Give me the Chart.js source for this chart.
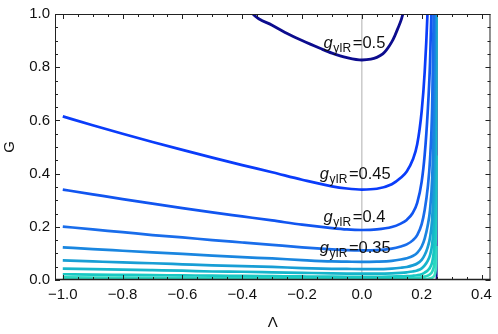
<!DOCTYPE html>
<html>
<head>
<meta charset="utf-8">
<script src="https://cdn.jsdelivr.net/npm/chart.js@4.4.1/dist/chart.umd.min.js"></script>
<style>
  html, body { margin: 0; padding: 0; background: #fff; }
  #box { width: 498px; height: 334px; }
</style>
</head>
<body>
<div id="box"><canvas id="grafico" width="498" height="334"></canvas></div>
<script>
// curve values, G against Lambda
const lambdaGrid = [-1, -0.9, -0.8, -0.7, -0.6, -0.5, -0.4, -0.3, -0.2, -0.1, -0.05, 0, 0.05, 0.1, 0.13, 0.15, 0.17, 0.185, 0.2, 0.21, 0.22, 0.228, 0.235, 0.24, 0.243, 0.245, 0.247, 0.248, 0.249];
const g045 = [0.615, 0.582, 0.550, 0.519, 0.489, 0.460, 0.432, 0.405, 0.377, 0.352, 0.344, 0.340, 0.343, 0.360, 0.384, 0.408, 0.452, 0.510, 0.635, 0.782, 1.02, 1.33];
const g040 = [0.340, 0.322, 0.304, 0.287, 0.270, 0.254, 0.239, 0.224, 0.208, 0.195, 0.190, 0.188, 0.190, 0.199, 0.212, 0.226, 0.252, 0.29, 0.37, 0.47, 0.63, 0.82, 1.12];
const g035 = [0.201, 0.190, 0.180, 0.169, 0.160, 0.150, 0.141, 0.132, 0.123, 0.115, 0.112, 0.111, 0.112, 0.118, 0.126, 0.134, 0.149, 0.169, 0.21, 0.263, 0.345, 0.455, 0.65, 0.99, 1.4];
const g030 = [0.123, 0.116, 0.110, 0.104, 0.098, 0.092, 0.086, 0.081, 0.075, 0.070, 0.069, 0.068, 0.069, 0.072, 0.077, 0.082, 0.090, 0.102, 0.126, 0.156, 0.204, 0.265, 0.381, 0.578, 0.816, 1.16];
const g025 = [0.074, 0.070, 0.066, 0.063, 0.059, 0.055, 0.052, 0.049, 0.045, 0.042, 0.0415, 0.041, 0.041, 0.043, 0.046, 0.049, 0.055, 0.062, 0.076, 0.094, 0.123, 0.160, 0.230, 0.349, 0.49, 0.70, 1.15];
const g020 = [0.043, 0.041, 0.039, 0.037, 0.035, 0.032, 0.031, 0.029, 0.027, 0.025, 0.0243, 0.024, 0.024, 0.025, 0.027, 0.029, 0.032, 0.036, 0.044, 0.055, 0.072, 0.094, 0.134, 0.204, 0.288, 0.408, 0.672, 1.01];
const g015 = [0.0217, 0.0205, 0.0194, 0.0183, 0.0173, 0.0162, 0.0153, 0.0143, 0.0133, 0.0124, 0.0121, 0.012, 0.012, 0.013, 0.014, 0.0145, 0.016, 0.018, 0.022, 0.028, 0.036, 0.047, 0.067, 0.102, 0.144, 0.204, 0.336, 0.504, 1.02];
const g010 = [0.0099, 0.0094, 0.0089, 0.0084, 0.0079, 0.0074, 0.0070, 0.0066, 0.0061, 0.0057, 0.0056, 0.0055, 0.0056, 0.0058, 0.0062, 0.0066, 0.0073, 0.0083, 0.0102, 0.0127, 0.0165, 0.0215, 0.031, 0.047, 0.066, 0.094, 0.154, 0.231, 0.468];
const g005 = [0.0027, 0.0026, 0.0024, 0.0023, 0.0022, 0.0020, 0.0019, 0.0018, 0.0017, 0.0016, 0.0015, 0.0015, 0.0015, 0.0016, 0.0017, 0.0018, 0.002, 0.0023, 0.0028, 0.0035, 0.0045, 0.0059, 0.0084, 0.0128, 0.018, 0.0255, 0.042, 0.063, 0.128];

// the g=0.5 curve has its own sampling
const lambda05 = [-0.38, -0.364, -0.3, -0.248, -0.2, -0.138, -0.1, -0.05, 0, 0.03, 0.05, 0.07, 0.083, 0.1, 0.11, 0.12, 0.132, 0.142];
const g050 = [1.03, 1.0, 0.958, 0.926, 0.9, 0.87, 0.853, 0.836, 0.827, 0.83, 0.837, 0.85, 0.866, 0.895, 0.918, 0.945, 0.98, 1.02];

const poleLambda = 0.25;
const curveNames = ["0.45", "0.4", "0.35", "0.3", "0.25", "0.2", "0.15", "0.1", "0.05"];
const curveValues = [g045, g040, g035, g030, g025, g020, g015, g010, g005];
const labelledCurves = ["0.5", "0.45", "0.4", "0.35"];

const xTickValues = [-1.0, -0.8, -0.6, -0.4, -0.2, 0.0, 0.2, 0.4];
const yTickValues = [0.0, 0.2, 0.4, 0.6, 0.8, 1.0];

const coresCurvas = ["#0a3cfa", "#1155f0", "#196deb", "#1a86e0", "#189ed5", "#16b5cb", "#18c8c3", "#28d6c0", "#3ee2c4"];
const corNavy = "#0c0c8e";
const fonte = '"Liberation Sans", Arial, sans-serif';

function fmt(v) {
  const s = Math.abs(v).toFixed(1);
  return v < -1e-9 ? "\u2212" + s : s;
}

const datasets = [];
datasets.push({
  data: lambda05.map((x, i) => ({ x: x, y: g050[i] })),
  borderColor: corNavy, borderWidth: 2.8
});
curveValues.forEach((vals, k) => {
  datasets.push({
    label: curveNames[k],
    data: vals.map((y, i) => ({ x: lambdaGrid[i], y: y })),
    borderColor: coresCurvas[k], borderWidth: 2.7
  });
});
// vertical line at the pole
datasets.push({
  data: [{ x: poleLambda, y: 0 }, { x: poleLambda, y: 1 }],
  borderColor: corNavy, borderWidth: 2, cubicInterpolationMode: "default", tension: 0
});
// thin gray line at Lambda = 0
datasets.push({
  data: [{ x: 0, y: 0 }, { x: 0, y: 1 }],
  borderColor: "#b0b0b0", borderWidth: 1, cubicInterpolationMode: "default", tension: 0
});
datasets.forEach(d => {
  d.showLine = true;
  d.pointRadius = 0;
  d.fill = false;
  d.clip = 0;
  if (!d.cubicInterpolationMode) d.cubicInterpolationMode = "monotone";
});

// frame with inward ticks, like the original
const moldura = {
  id: "moldura",
  afterDraw(chart) {
    const ctx = chart.ctx, a = chart.chartArea;
    const xs = chart.scales.x, ys = chart.scales.y;
    ctx.save();
    ctx.strokeStyle = "#222";
    ctx.lineWidth = 1;
    ctx.strokeRect(a.left + 0.5, a.top + 0.5, a.right - a.left - 1, a.bottom - a.top - 1);
    ctx.lineWidth = 1.6;
    ctx.beginPath();
    ctx.moveTo(a.left, a.bottom - 0.5);
    ctx.lineTo(a.right, a.bottom - 0.5);
    ctx.stroke();
    ctx.lineWidth = 1;
    ctx.beginPath();
    for (let i = -20; i <= 8; i++) {
      const v = i * 0.05;
      const px = Math.round(xs.getPixelForValue(v)) + 0.5;
      if (px < a.left || px > a.right) continue;
      const len = i % 4 === 0 ? 5 : 3;
      ctx.moveTo(px, a.bottom); ctx.lineTo(px, a.bottom - len);
      ctx.moveTo(px, a.top); ctx.lineTo(px, a.top + len);
    }
    for (let i = 0; i <= 20; i++) {
      const v = i * 0.05;
      const py = Math.round(ys.getPixelForValue(v)) + 0.5;
      const len = i % 4 === 0 ? 5 : 3;
      ctx.moveTo(a.left, py); ctx.lineTo(a.left + len, py);
      ctx.moveTo(a.right, py); ctx.lineTo(a.right - len, py);
    }
    ctx.stroke();

    // axis titles
    ctx.fillStyle = "#111";
    ctx.font = "15px " + fonte;
    ctx.textAlign = "center";
    ctx.textBaseline = "middle";
    ctx.fillText("\u039B", (a.left + a.right) / 2, 323);
    ctx.translate(10, (a.top + a.bottom) / 2);
    ctx.rotate(-Math.PI / 2);
    ctx.fillText("G", 0, 0);
    ctx.restore();
  }
};

// curve labels g_yIR = ...
const rotulos = {
  id: "rotulos",
  afterDatasetsDraw(chart) {
    const ctx = chart.ctx;
    const xs = chart.scales.x, ys = chart.scales.y;
    const spots = [[-0.128, 0.874], [-0.141, 0.381], [-0.128, 0.219], [-0.141, 0.1]];
    ctx.save();
    ctx.fillStyle = "#111";
    ctx.textBaseline = "alphabetic";
    ctx.textAlign = "left";
    labelledCurves.forEach((name, i) => {
      let x = xs.getPixelForValue(spots[i][0]);
      const y = ys.getPixelForValue(spots[i][1]);
      ctx.font = "italic 16.5px " + fonte;
      ctx.fillText("g", x, y);
      x += ctx.measureText("g").width + 0.5;
      ctx.font = "12px " + fonte;
      ctx.fillText("yIR", x, y + 4);
      x += ctx.measureText("yIR").width + 1.5;
      ctx.font = "16.5px " + fonte;
      ctx.fillText("=" + name, x, y);
    });
    ctx.restore();
  }
};

new Chart(document.getElementById("grafico").getContext("2d"), {
  type: "scatter",
  data: { datasets: datasets },
  options: {
    responsive: false,
    animation: false,
    devicePixelRatio: 1,
    layout: { padding: { top: 10, right: 3, left: 0, bottom: 0 } },
    plugins: { legend: { display: false }, tooltip: { enabled: false } },
    scales: {
      x: {
        type: "linear", min: -1.026, max: 0.43,
        grid: { display: false, drawTicks: false },
        border: { display: false },
        afterBuildTicks: s => { s.ticks = xTickValues.map(v => ({ value: v })); },
        afterFit: s => { s.height = 54; },
        ticks: { padding: 6, color: "#111", font: { family: fonte, size: 15 }, callback: v => fmt(v), maxRotation: 0 }
      },
      y: {
        type: "linear", min: 0, max: 1,
        grid: { display: false, drawTicks: false },
        border: { display: false },
        afterBuildTicks: s => { s.ticks = yTickValues.map(v => ({ value: v })); },
        afterFit: s => { s.width = 55; },
        ticks: { padding: 5, color: "#111", font: { family: fonte, size: 15 }, callback: v => fmt(v) }
      }
    }
  },
  plugins: [moldura, rotulos]
});
</script>
</body>
</html>
